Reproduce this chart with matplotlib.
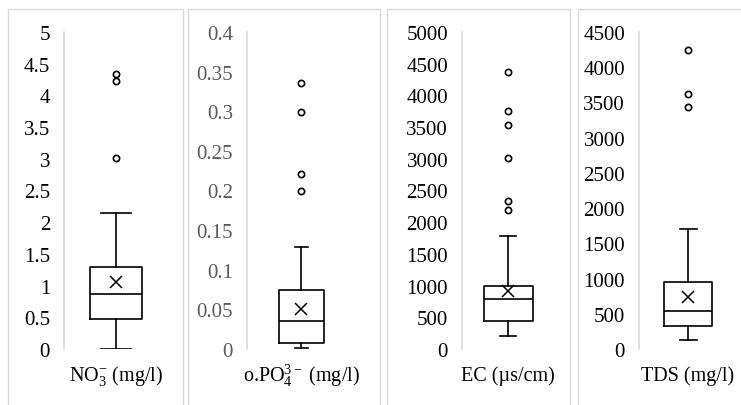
import matplotlib
matplotlib.use("Agg")
import matplotlib.pyplot as plt
from matplotlib.patches import Rectangle
import numpy as np

plt.rcParams['font.family'] = ['Liberation Serif', 'DejaVu Serif']
plt.rcParams['mathtext.fontset'] = 'custom'
plt.rcParams['mathtext.rm'] = 'Liberation Serif'
plt.rcParams['mathtext.it'] = 'Liberation Serif:italic'

# values
labels = ['NO$_3^{\\mathregular{-}}$ (mg/l)', 'o.PO$_4^{\\mathregular{3-}}$ (mg/l)',
          'EC (\u00b5s/cm)', 'TDS (mg/l)']
q1 = [0.47, 0.007, 440, 320]
median = [0.87, 0.035, 795, 545]
q3 = [1.30, 0.075, 1000, 955]
whis_lo = [0.0, 0.001, 205, 128]
whis_hi = [2.15, 0.129, 1785, 1705]
means = [1.05, 0.050, 920, 745]
fliers = [[3.02, 4.23, 4.33],
          [0.199, 0.221, 0.299, 0.336],
          [2200, 2340, 3020, 3540, 3750, 4375],
          [3430, 3620, 4240]]
y_max = [5, 0.4, 5000, 4500]
y_step = [0.5, 0.05, 500, 500]
tick_colors = ['black', '#595959', 'black', 'black']

W, H = 741, 406
fig = plt.figure(figsize=(W / 100, H / 100), dpi=100)

# panel frames in pixels (left, right)
frames = [(8, 183), (188, 380), (387, 570), (578, 745)]
# axis spine x and box centre x in pixels, box width and cap width in px
spine_x = [64, 247, 462, 639]
centre_x = [116, 301, 508, 688]
box_px = [53, 45, 49, 48]
cap_px = [30, 13, 16, 17]
y_top, y_bot = 33, 350

for i in range(4):
    fl, fr = frames[i]
    fig.patches.append(Rectangle((fl / W, -0.05), (fr - fl) / W, (H - 10) / H + 0.05,
                                 transform=fig.transFigure, fill=False,
                                 edgecolor='#d9d9d9', linewidth=1))
    ax_w = 2 * (centre_x[i] - spine_x[i])
    ax = fig.add_axes([spine_x[i] / W, (H - y_bot) / H, ax_w / W, (y_bot - y_top) / H])
    stats = [{
        'med': median[i], 'q1': q1[i], 'q3': q3[i],
        'whislo': whis_lo[i], 'whishi': whis_hi[i],
        'mean': means[i], 'fliers': fliers[i],
    }]
    ax.bxp(stats, positions=[0.5], widths=box_px[i] / ax_w,
           capwidths=[cap_px[i] / ax_w], showmeans=True, patch_artist=False,
           boxprops=dict(color='black', linewidth=1.2),
           medianprops=dict(color='black', linewidth=1.2),
           whiskerprops=dict(color='black', linewidth=1.2),
           capprops=dict(color='black', linewidth=1.2),
           meanprops=dict(marker='x', markeredgecolor='black', markersize=9,
                          markeredgewidth=1.1),
           flierprops=dict(marker='o', markerfacecolor='none', markeredgecolor='black',
                           markersize=4.5, markeredgewidth=1.2))
    ax.set_xlim(0, 1)
    ax.set_ylim(0, y_max[i])
    ticks = np.arange(0, y_max[i] + y_step[i] / 2, y_step[i])
    ax.set_yticks(ticks)
    ax.set_yticklabels(['%g' % round(t, 3) for t in ticks])
    ax.tick_params(axis='y', length=0, pad=10, labelsize=15, labelcolor=tick_colors[i])
    ax.set_xticks([])
    for s in ['top', 'right', 'bottom']:
        ax.spines[s].set_visible(False)
    ax.spines['left'].set_color('#d9d9d9')
    ax.spines['left'].set_linewidth(1.2)
    ax.patch.set_alpha(0)
    fig.text(centre_x[i] / W, (H - 376) / H, labels[i], ha='center', va='center',
             fontsize=14.5)

fig.savefig('out.png', dpi=100)
